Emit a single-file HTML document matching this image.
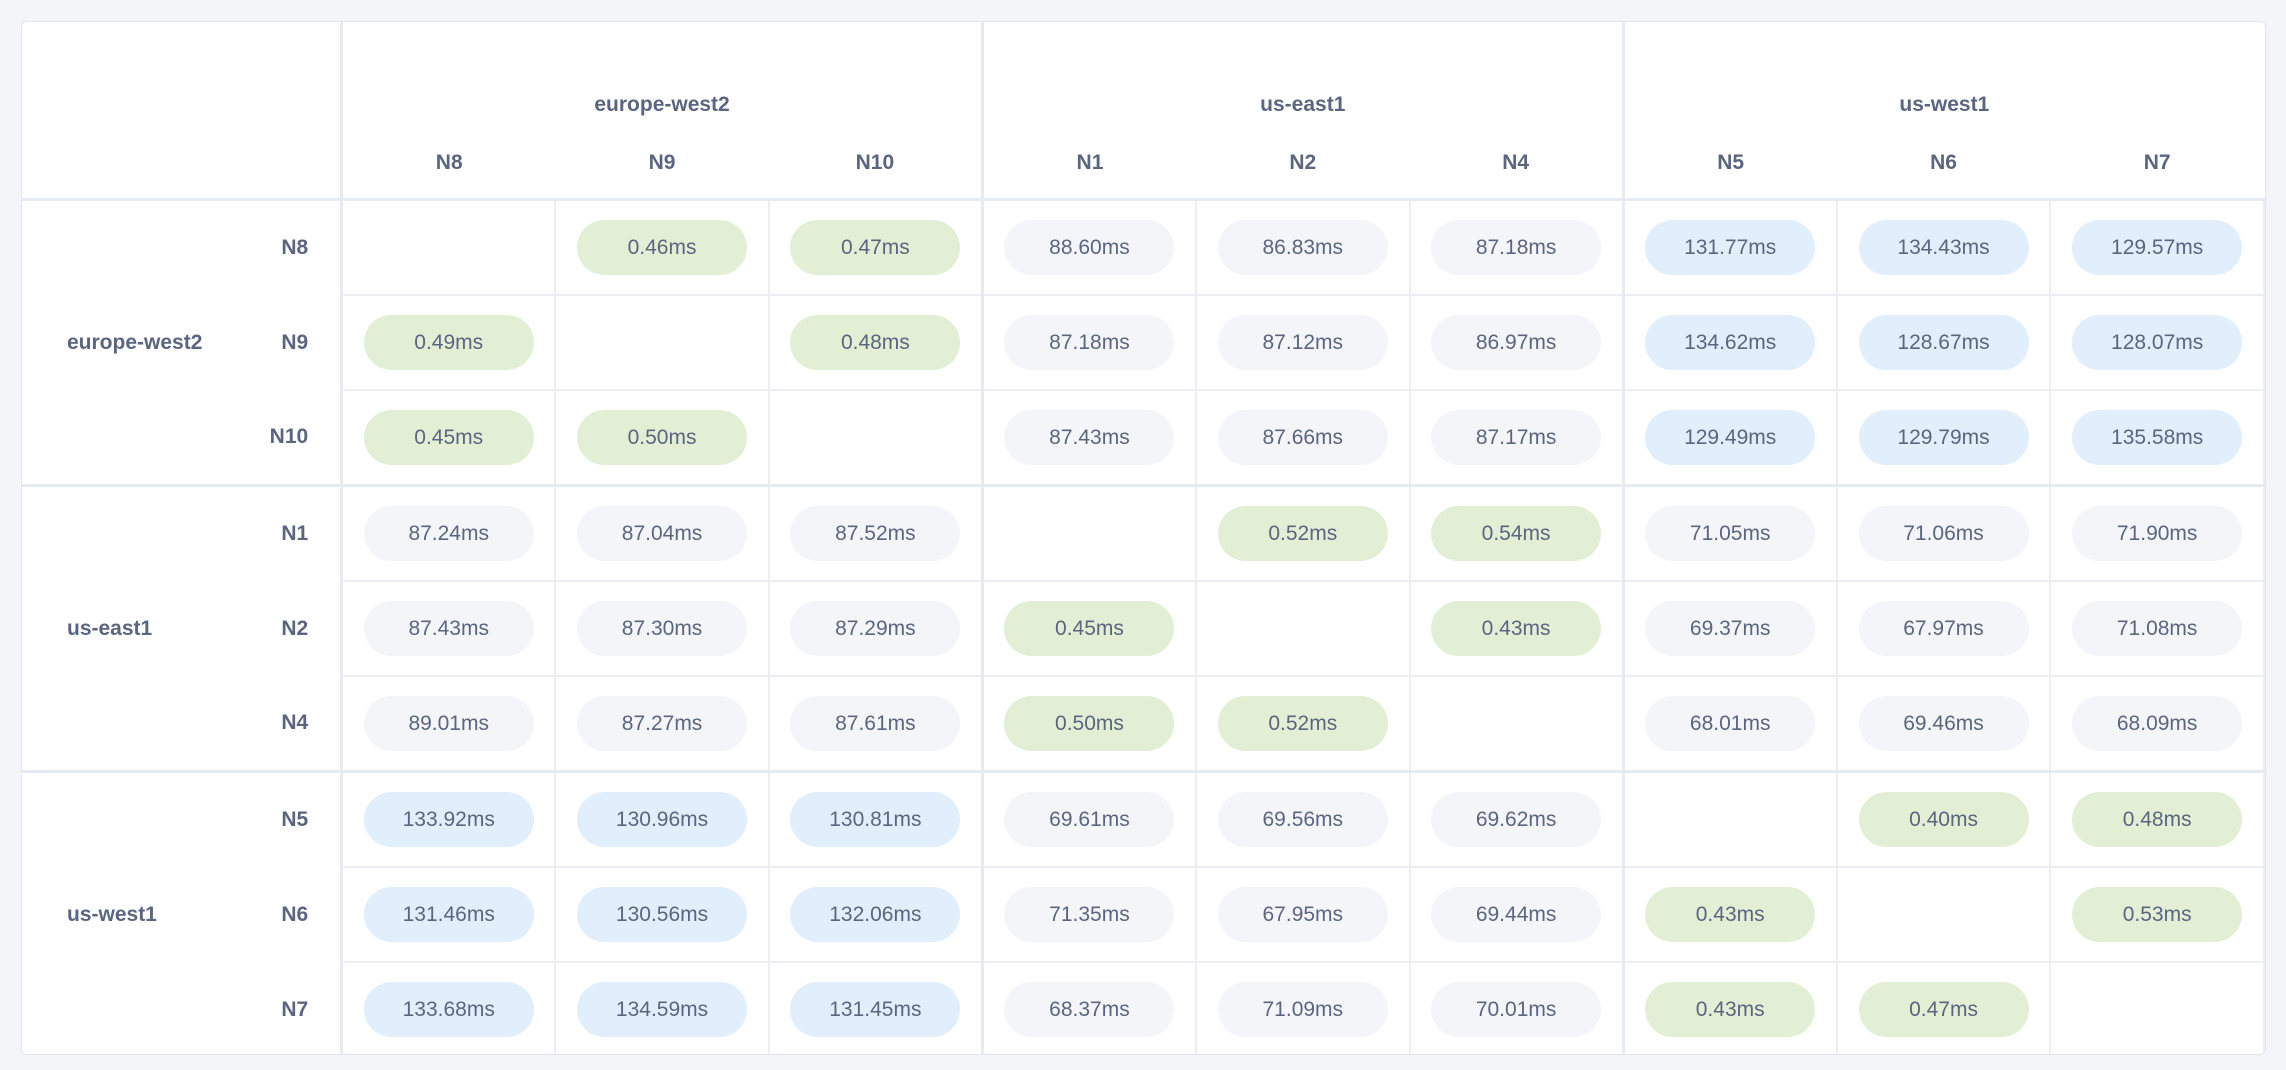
<!DOCTYPE html>
<html><head><meta charset="utf-8"><style>
html,body{margin:0;padding:0;background:#f4f5f9;width:2286px;height:1070px;overflow:hidden;font-family:"Liberation Sans","DejaVu Sans",sans-serif;color:#5b6580}
.card{position:absolute;left:21px;top:21px;width:2243px;height:1032px;background:#fff;border:1px solid #e2e5ec;border-radius:6px;overflow:hidden}
table{border-collapse:collapse;table-layout:fixed;position:absolute;left:0;top:0}
td,th{padding:0;text-align:center;vertical-align:middle}
th{font-weight:bold;font-size:21px}
th .g{height:110px;box-sizing:border-box;padding-top:71px;line-height:24px}
th .n{height:66px;box-sizing:border-box;padding-top:19px;line-height:24px}
th.n{border-bottom:3px solid #e6eaf1}
.L{border-right:3px solid #e6eaf1}
td{height:93px;border:2px solid #eceef3;font-size:21px}
td.lab{border:none;font-weight:bold;text-align:left;padding-left:45px}
td.nl{border-top:none;border-bottom:none;font-weight:bold;text-align:right;padding-right:32px;border-left:none}
tr.gb td{border-top:3px solid #e6eaf1}
td.L{border-right:3px solid #e6eaf1}
.p{display:inline-block;width:170px;height:55px;line-height:55px;border-radius:28px;background:#f4f5f9}
.gr{background:#e3efd5}.bl{background:#e1eefb}
</style></head><body>
<div class="card">
<table>
<colgroup><col style="width:230px"><col style="width:90px"><col style="width:213.7px"><col style="width:213.7px"><col style="width:213.7px"><col style="width:213.7px"><col style="width:213.7px"><col style="width:213.7px"><col style="width:213.7px"><col style="width:213.7px"><col style="width:213.7px"></colgroup>
<tr><th colspan="2" rowspan="2" class="L" style="border-bottom:3px solid #e6eaf1"></th><th colspan="3" class="L"><div class="g">europe-west2</div></th><th colspan="3" class="L"><div class="g">us-east1</div></th><th colspan="3"><div class="g">us-west1</div></th></tr>
<tr><th class="n"><div class="n">N8</div></th><th class="n"><div class="n">N9</div></th><th class="n L"><div class="n">N10</div></th><th class="n"><div class="n">N1</div></th><th class="n"><div class="n">N2</div></th><th class="n L"><div class="n">N4</div></th><th class="n"><div class="n">N5</div></th><th class="n"><div class="n">N6</div></th><th class="n"><div class="n">N7</div></th></tr>

<tr><td class="lab" rowspan="3">europe-west2</td><td class="nl L">N8</td><td></td><td><span class="p gr">0.46ms</span></td><td class="L"><span class="p gr">0.47ms</span></td><td><span class="p">88.60ms</span></td><td><span class="p">86.83ms</span></td><td class="L"><span class="p">87.18ms</span></td><td><span class="p bl">131.77ms</span></td><td><span class="p bl">134.43ms</span></td><td><span class="p bl">129.57ms</span></td></tr>
<tr><td class="nl L">N9</td><td><span class="p gr">0.49ms</span></td><td></td><td class="L"><span class="p gr">0.48ms</span></td><td><span class="p">87.18ms</span></td><td><span class="p">87.12ms</span></td><td class="L"><span class="p">86.97ms</span></td><td><span class="p bl">134.62ms</span></td><td><span class="p bl">128.67ms</span></td><td><span class="p bl">128.07ms</span></td></tr>
<tr><td class="nl L">N10</td><td><span class="p gr">0.45ms</span></td><td><span class="p gr">0.50ms</span></td><td class="L"></td><td><span class="p">87.43ms</span></td><td><span class="p">87.66ms</span></td><td class="L"><span class="p">87.17ms</span></td><td><span class="p bl">129.49ms</span></td><td><span class="p bl">129.79ms</span></td><td><span class="p bl">135.58ms</span></td></tr>

<tr class="gb"><td class="lab" rowspan="3">us-east1</td><td class="nl L">N1</td><td><span class="p">87.24ms</span></td><td><span class="p">87.04ms</span></td><td class="L"><span class="p">87.52ms</span></td><td></td><td><span class="p gr">0.52ms</span></td><td class="L"><span class="p gr">0.54ms</span></td><td><span class="p">71.05ms</span></td><td><span class="p">71.06ms</span></td><td><span class="p">71.90ms</span></td></tr>
<tr><td class="nl L">N2</td><td><span class="p">87.43ms</span></td><td><span class="p">87.30ms</span></td><td class="L"><span class="p">87.29ms</span></td><td><span class="p gr">0.45ms</span></td><td></td><td class="L"><span class="p gr">0.43ms</span></td><td><span class="p">69.37ms</span></td><td><span class="p">67.97ms</span></td><td><span class="p">71.08ms</span></td></tr>
<tr><td class="nl L">N4</td><td><span class="p">89.01ms</span></td><td><span class="p">87.27ms</span></td><td class="L"><span class="p">87.61ms</span></td><td><span class="p gr">0.50ms</span></td><td><span class="p gr">0.52ms</span></td><td class="L"></td><td><span class="p">68.01ms</span></td><td><span class="p">69.46ms</span></td><td><span class="p">68.09ms</span></td></tr>

<tr class="gb"><td class="lab" rowspan="3">us-west1</td><td class="nl L">N5</td><td><span class="p bl">133.92ms</span></td><td><span class="p bl">130.96ms</span></td><td class="L"><span class="p bl">130.81ms</span></td><td><span class="p">69.61ms</span></td><td><span class="p">69.56ms</span></td><td class="L"><span class="p">69.62ms</span></td><td></td><td><span class="p gr">0.40ms</span></td><td><span class="p gr">0.48ms</span></td></tr>
<tr><td class="nl L">N6</td><td><span class="p bl">131.46ms</span></td><td><span class="p bl">130.56ms</span></td><td class="L"><span class="p bl">132.06ms</span></td><td><span class="p">71.35ms</span></td><td><span class="p">67.95ms</span></td><td class="L"><span class="p">69.44ms</span></td><td><span class="p gr">0.43ms</span></td><td></td><td><span class="p gr">0.53ms</span></td></tr>
<tr><td class="nl L">N7</td><td><span class="p bl">133.68ms</span></td><td><span class="p bl">134.59ms</span></td><td class="L"><span class="p bl">131.45ms</span></td><td><span class="p">68.37ms</span></td><td><span class="p">71.09ms</span></td><td class="L"><span class="p">70.01ms</span></td><td><span class="p gr">0.43ms</span></td><td><span class="p gr">0.47ms</span></td><td></td></tr>
</table>
</div>
</body></html>
